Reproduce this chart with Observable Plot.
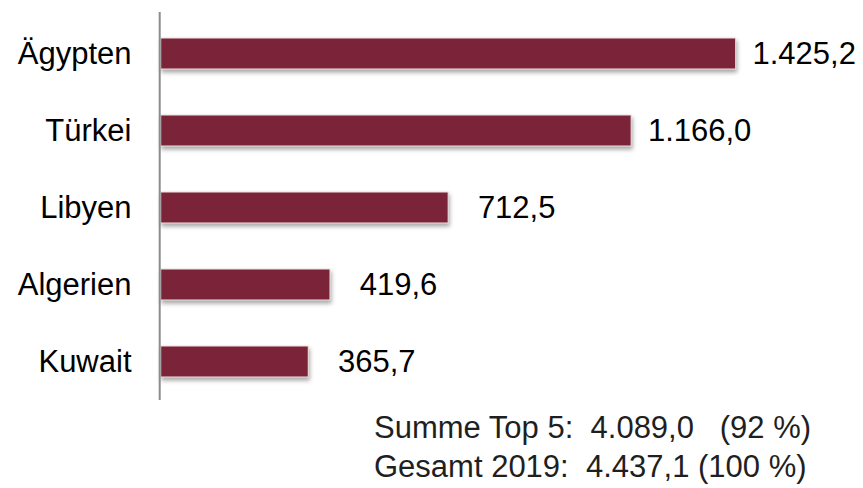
<!DOCTYPE html>
<html>
<head>
<meta charset="utf-8">
<script src="https://cdn.jsdelivr.net/npm/d3@7"></script>
<script src="https://cdn.jsdelivr.net/npm/@observablehq/plot@0.6"></script>
<style>
  html, body { margin: 0; padding: 0; background: #fff; }
  #chart svg { display: block; }
  .summary {
    margin: 3px 0 0 374px;
    font-family: "Liberation Sans", Arial, sans-serif;
    font-size: 31px;
    line-height: 39px;
    color: #1f1f1f;
    white-space: pre;
  }
</style>
</head>
<body>
<div id="chart"></div>
<div class="summary" id="summary"></div>
<script>
const countries = ["Ägypten", "Türkei", "Libyen", "Algerien", "Kuwait"];
const values = [1425.2, 1166.0, 712.5, 419.6, 365.7];
const summaryLines = ["Summe Top 5:  4.089,0   (92 %)", "Gesamt 2019:  4.437,1 (100 %)"];

const data = countries.map((c, i) => ({country: c, value: values[i]}));
const de = d3.formatLocale({decimal: ",", thousands: ".", grouping: [3], currency: ["", " €"]});
const fmt = de.format(",.1f");

const chart = Plot.plot({
  width: 863,
  height: 405,
  marginTop: 12,
  marginBottom: 5,
  marginLeft: 159,
  marginRight: 16,
  style: {fontFamily: "'Liberation Sans', Arial, sans-serif", fontSize: "31px", color: "#000", background: "#fff"},
  x: {domain: [0, 1700], range: [160.7, 160.7 + 1700 * 0.40345], axis: null},
  y: {domain: countries, range: [13.5, 401.5], paddingInner: 0.6, paddingOuter: 0.3, label: null},
  marks: [
    Plot.barX(data, {
      x: "value", y: "country", fill: "#7b2338",
      stroke: "#eee4e4", strokeWidth: 1,
      imageFilter: "drop-shadow(1px 3px 2px rgba(0,0,0,0.35))"
    }),
    Plot.ruleX([0], {stroke: "#8c8c8c", strokeWidth: 2, dx: -1.5}),
    Plot.axisY({tickSize: 0, tickPadding: 28, fontSize: 31, label: null}),
    Plot.text(data, {
      x: "value", y: "country", text: d => fmt(d.value),
      dx: 68, textAnchor: "middle", fontSize: 31, fill: "#000"
    })
  ]
});
document.getElementById("chart").append(chart);
document.getElementById("summary").innerHTML = summaryLines.map(s => `<div>${s}</div>`).join("");
</script>
</body>
</html>
